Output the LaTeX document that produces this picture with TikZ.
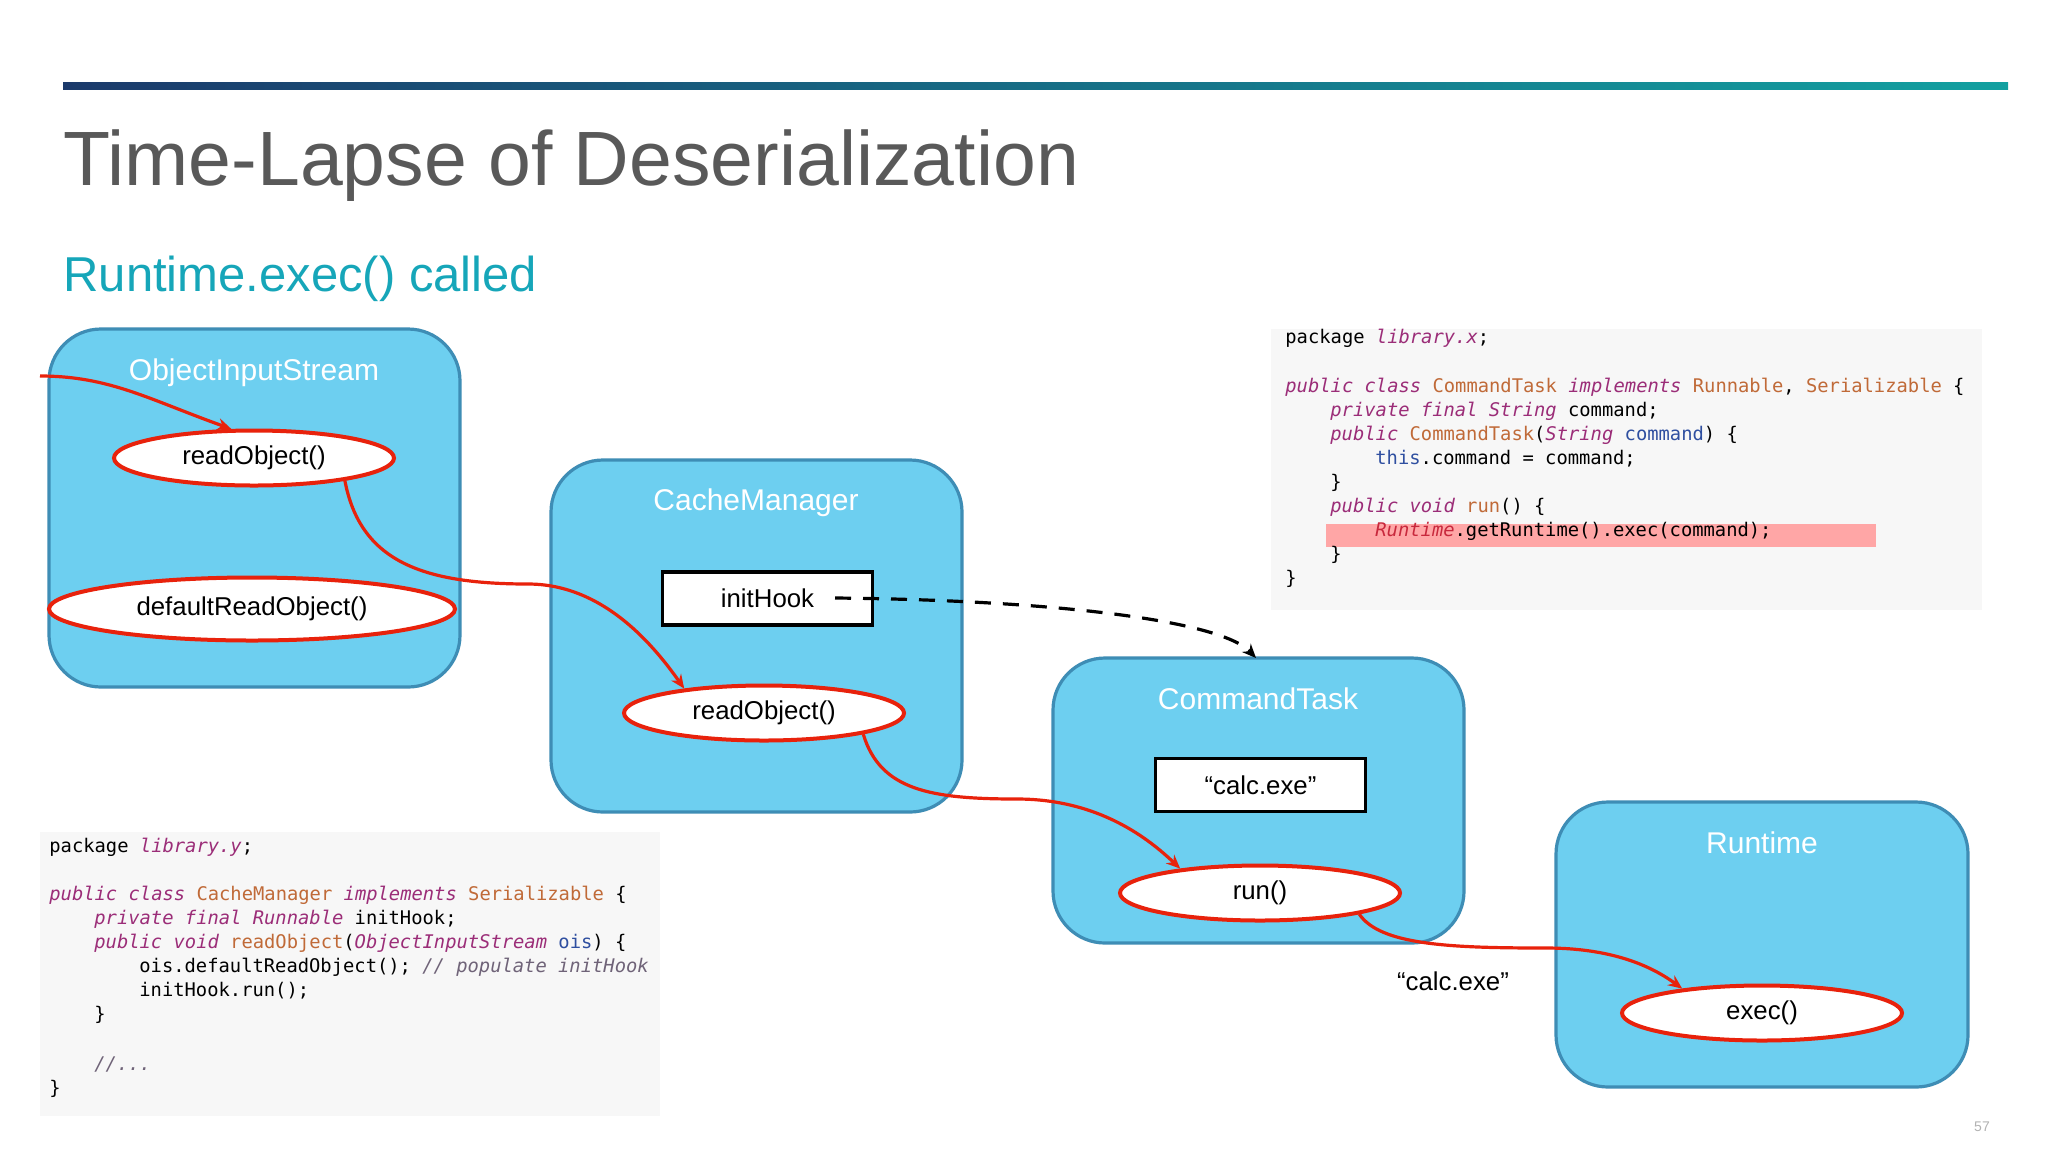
\documentclass[tikz,border=0pt]{standalone}
\usepackage{fontspec}
\setmainfont{Liberation Sans}
\newfontfamily\codefont{DejaVu Sans Mono}
\usetikzlibrary{shapes.geometric,arrows.meta}
\definecolor{boxfill}{HTML}{6DCFF0}
\definecolor{boxline}{HTML}{3E8DB5}
\definecolor{redl}{HTML}{E8220C}
\definecolor{kw}{HTML}{9B2D78}
\definecolor{cls}{HTML}{C06A38}
\definecolor{par}{HTML}{2F4FA0}
\definecolor{rt}{HTML}{C8283C}
\definecolor{cmt}{HTML}{6F6378}
\definecolor{titlegray}{HTML}{595959}
\definecolor{subteal}{HTML}{16A6B9}
\tikzset{
 cbox/.style={draw=boxline,line width=1.6pt,fill=boxfill,rounded corners=26pt},
 blabel/.style={text=white,font=\fontsize{15}{18}\selectfont,anchor=center},
 meth/.style={ellipse,draw=redl,line width=2pt,fill=white,inner sep=0pt,minimum width=140pt,minimum height=27.5pt,font=\fontsize{12.9}{15}\selectfont},
 valbox/.style={draw=black,line width=1.6pt,fill=white,inner sep=0pt,minimum width=105pt,minimum height=26.5pt,font=\fontsize{12.9}{15}\selectfont},
 flow/.style={draw=redl,line width=1.6pt,-{Stealth[length=7pt,width=6pt]}},
 code/.style={anchor=base west,inner sep=0pt,font=\codefont\fontsize{9.4}{11}\selectfont}
}
\newcommand{\kwd}[1]{{\color{kw}\itshape #1}}
\newcommand{\clz}[1]{{\color{cls}#1}}
\newcommand{\prm}[1]{{\color{par}#1}}
\begin{document}
\begin{tikzpicture}[x=0.5pt,y=-0.5pt]
\useasboundingbox (0,0) rectangle (2048,1152);
\fill[white] (0,0) rectangle (2048,1152);
\shade[left color={rgb,255:red,27;green,58;blue,107},right color={rgb,255:red,18;green,160;blue,160}] (63,82.5) rectangle (2008,89.5);
\node[anchor=base west,inner sep=0pt,text=titlegray,font=\fontsize{38.5}{44}\selectfont] (title) at (63,185) {Time-Lapse of Deserialization};
\node[anchor=base west,inner sep=0pt,text=subteal,font=\fontsize{24.5}{28}\selectfont] (sub) at (63,291) {Runtime.exec() called};

% code boxes
\fill[black!3] (1271,329) rectangle (1982,610);
\fill[red!35] (1326,524) rectangle (1876,547);
\node[code] (c1) at (1285,343) {package \kwd{library.x};};
\node[code] (c2) at (1285,392) {\kwd{public class} \clz{CommandTask} \kwd{implements} \clz{Runnable}, \clz{Serializable} \{};
\node[code] (c3) at (1330,416) {\kwd{private final String} command;};
\node[code] (c4) at (1330,440) {\kwd{public} \clz{CommandTask}(\kwd{String} \prm{command}) \{};
\node[code] (c5) at (1375,464) {\prm{this}.command = command;};
\node[code] (c6) at (1330,488) {\}};
\node[code] (c7) at (1330,512) {\kwd{public void} \clz{run}() \{};
\node[code] (c8) at (1375,536) {{\color{rt}\itshape Runtime}.getRuntime().exec(command);};
\node[code] (c9) at (1330,560) {\}};
\node[code] (c10) at (1285,584) {\}};

\fill[black!3] (40,832) rectangle (660,1116);
\node[code] (d1) at (49,852) {package \kwd{library.y};};
\node[code] (d2) at (49,900) {\kwd{public class} \clz{CacheManager} \kwd{implements} \clz{Serializable} \{};
\node[code] (d3) at (94,924) {\kwd{private final Runnable} initHook;};
\node[code] (d4) at (94,948) {\kwd{public void} \clz{readObject}(\kwd{ObjectInputStream} \prm{ois}) \{};
\node[code] (d5) at (139,972) {ois.defaultReadObject(); {\color{cmt}\itshape // populate initHook}};
\node[code] (d6) at (139,996) {initHook.run();};
\node[code] (d7) at (94,1020) {\}};
\node[code] (d8) at (94,1070) {{\color{cmt}\itshape //...}};
\node[code] (d9) at (49,1094) {\}};

% boxes
\draw[cbox] (49,329) rectangle (460,687);
\node[blabel] (l1) at (254,373) {ObjectInputStream};
\node[meth] (r1) at (254,458) {readObject()};
\node[meth,minimum width=203pt,minimum height=31.5pt] (dro) at (252,609) {defaultReadObject()};

\draw[cbox] (551,460) rectangle (962,812);
\node[blabel] (l2) at (756,503) {CacheManager};
\node[valbox] (ih) at (767.5,598.5) {initHook};
\node[meth] (r2) at (764,713) {readObject()};

\draw[cbox] (1053,658) rectangle (1464,943);
\coordinate (ctn) at (1256,658);
\node[blabel] (l3) at (1258,699) {CommandTask};
\node[valbox] (cv) at (1260.5,785) {“calc.exe”};
\node[meth] (run) at (1260,893) {run()};

\draw[cbox] (1556,802) rectangle (1968,1087);
\node[blabel] (l4) at (1762,843) {Runtime};
\node[meth] (ex) at (1762,1013) {exec()};

\node[font=\fontsize{12.9}{15}\selectfont] (calc) at (1453,981) {“calc.exe”};
\node[text=black!30,font=\fontsize{7}{8}\selectfont] (pg) at (1982,1127) {57};

% connectors
\coordinate (s0) at (40,376);
\coordinate (m2) at (528,584);
\coordinate (m3) at (1017,799);
\coordinate (m4) at (1546,948);
\coordinate (ds) at (835,598);
\draw[flow] (s0) .. controls (110,376) and (150,400) .. (r1.128);
\draw[flow] (r1.-14) .. controls (360,560) and (420,584) .. (m2) .. controls (600,584) and (650,640) .. (r2.163);
\draw[flow] (r2.-12) .. controls (880,790) and (930,799) .. (m3) .. controls (1100,799) and (1150,840) .. (run.163);
\draw[flow] (run.-12) .. controls (1380,945) and (1450,948) .. (m4) .. controls (1610,948) and (1650,965) .. (ex.163);
\draw[line width=1.6pt,dash pattern=on 8pt off 6pt,-{Stealth[length=7pt,width=6pt]}] (ds) .. controls (1050,600) and (1220,620) .. (ctn);
\end{tikzpicture}
\end{document}
